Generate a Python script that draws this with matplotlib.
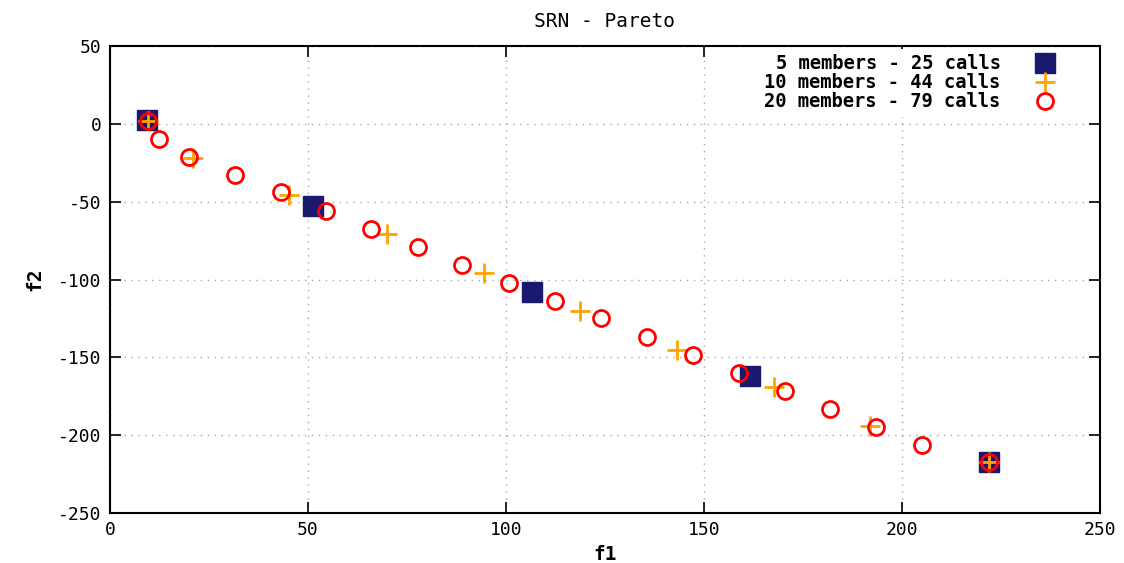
import matplotlib
matplotlib.use("Agg")
import matplotlib.pyplot as plt

x5 = [9.3, 51.3, 106.6, 161.6, 222.0]
y5 = [2.6, -52.7, -108.0, -162.0, -217.0]

x10 = [9.6, 21.0, 45.2, 70.0, 94.4, 118.7, 143.2, 167.7, 192.0, 222.0]
y10 = [2.0, -22.0, -46.0, -71.0, -96.0, -120.0, -145.0, -169.0, -194.0, -217.0]

x20 = [9.6, 12.4, 20.0, 31.6, 43.2, 54.5, 66.0, 77.8, 89.0, 100.8,
       112.4, 124.0, 135.6, 147.2, 158.8, 170.5, 181.8, 193.4, 205.0, 222.0]
y20 = [2.0, -9.6, -21.0, -33.0, -44.0, -56.0, -67.5, -79.0, -90.6, -102.0,
       -113.7, -125.0, -137.0, -148.5, -160.0, -171.6, -183.0, -194.7, -206.0, -217.0]

labels = ["5 members - 25 calls", "10 members - 44 calls", "20 members - 79 calls"]
xticks = [0, 50, 100, 150, 200, 250]
yticks = [50, 0, -50, -100, -150, -200, -250]

plt.rcParams['font.family'] = ['DejaVu Sans Mono']

fig = plt.figure(figsize=(11.24, 5.63), dpi=100)
ax = fig.add_axes([0.0979, 0.0888, 0.8807, 0.8294])

ax.plot(x5, y5, ls='none', marker='s', ms=14, color='#191970', mec='#191970', label=labels[0], zorder=3)
ax.plot(x10, y10, ls='none', marker='+', ms=15, mew=2, color='#ffa500', label=labels[1], zorder=4)
ax.plot(x20, y20, ls='none', marker='o', ms=11.5, mfc='none', mew=2, mec='#ff0000', label=labels[2], zorder=5)

ax.set_xlim(0, 250)
ax.set_ylim(-250, 50)
ax.set_xticks(xticks)
ax.set_yticks(yticks)
ax.set_xticklabels([str(t) for t in xticks])
ax.set_yticklabels([str(t) for t in yticks])
ax.grid(True, color='#a8a8a8', ls=(0, (1, 4)), lw=1)
ax.tick_params(direction='in', length=8, width=1.2, labelsize=13, top=True, right=True, pad=6)
for s in ax.spines.values():
    s.set_linewidth(1.5)

ax.set_title("SRN - Pareto", fontsize=14, pad=14)
ax.set_xlabel("f1", fontsize=14, fontweight='bold', labelpad=4)
ax.set_ylabel("f2", fontsize=14, fontweight='bold', labelpad=10)

leg = ax.legend(loc='upper right', bbox_to_anchor=(0.967, 1.0), markerfirst=False, frameon=True,
                handlelength=1.5, handletextpad=1.6, labelspacing=0.0,
                borderaxespad=0.15, borderpad=0.3, prop={'weight': 'bold', 'size': 13.5})
leg.get_frame().set_edgecolor('none')
leg.get_frame().set_facecolor('white')
leg.get_frame().set_alpha(1)
leg.set_zorder(2)
for t in leg.get_texts():
    t.set_ha('right')

fig.savefig("out.png", dpi=100)
